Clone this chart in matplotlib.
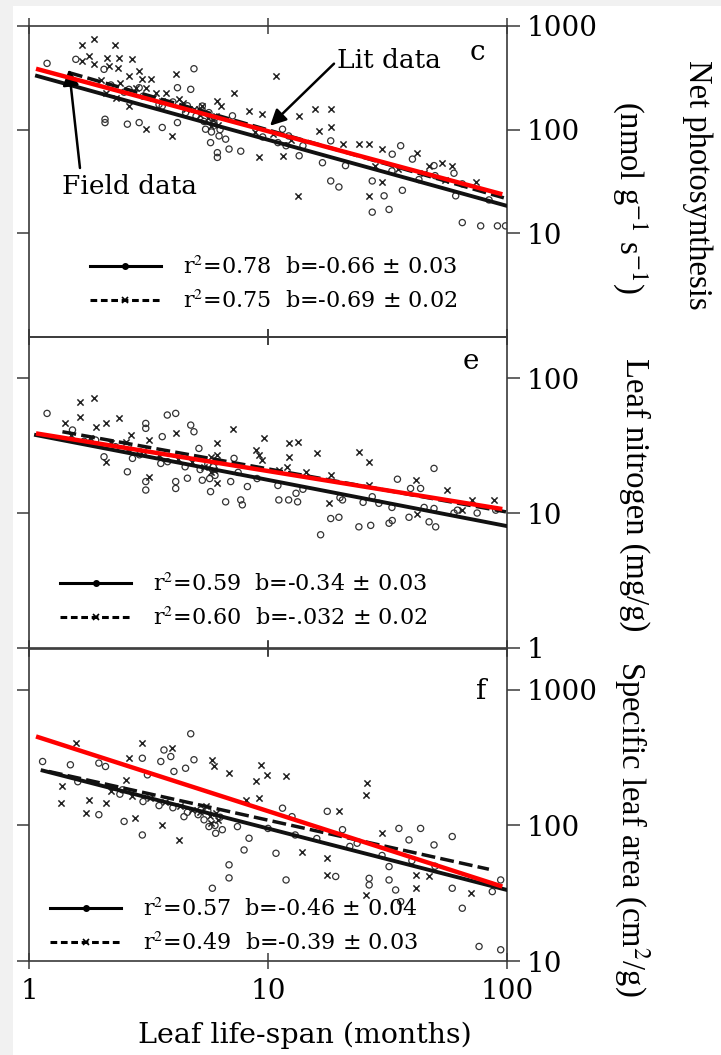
import matplotlib
matplotlib.use("Agg")
import matplotlib.pyplot as plt
from matplotlib.lines import Line2D
from matplotlib.patches import Rectangle
from matplotlib.ticker import NullLocator

plt.rcParams["font.family"] = "DejaVu Serif"
plt.rcParams["mathtext.fontset"] = "stix"

# ---- panel c: net photosynthesis ----
photo_cross_x = [1.66, 1.87, 2.29, 1.79, 2.11, 2.38, 2.69, 1.67, 1.87, 2.16, 2.36, 2.89, 2.62, 3.23,
                 3.08, 4.11, 3.73, 4.24, 5.31, 6.14, 7.21, 10.8, 15.8, 18.3, 16.3, 18.3, 8.33, 9.47,
                 13.5, 3.98, 3.08, 9.17, 11.5, 13.3, 20.5, 24.0, 26.5, 30.1, 42.2, 53.6, 59.0, 26.5,
                 30.1, 74.0, 47.2, 2.62, 2.31, 2.09, 5.14, 6.04, 5.75, 6.34, 2.98, 3.39, 4.52,
                 2.0, 2.4, 2.8, 3.3, 3.6, 4.4, 4.9, 5.2, 5.6, 5.9, 6.2, 8.8, 10.5, 12.5,
                 28, 35, 45, 55]
photo_cross_y = [652, 755, 652, 514, 495, 488, 477, 459, 427, 411, 396, 368, 330, 306,
                 254, 342, 228, 196, 169, 189, 228, 330, 157, 157, 97, 105, 151, 141,
                 136, 87, 101, 54, 56, 23, 72, 72, 72, 65, 60, 48, 45, 23,
                 31, 31, 45, 169, 204, 228, 157, 136, 108, 169, 306, 228, 157,
                 300, 280, 250, 200, 190, 180, 160, 140, 130, 125, 110, 95, 90, 80,
                 45, 42, 38, 33]
photo_circ_x = [1.19, 1.57, 2.06, 2.08, 2.08, 2.58, 2.89, 3.61, 4.18, 4.75, 4.90, 4.18, 6.14, 6.14,
                6.87, 7.69, 7.10, 6.65, 11.5, 12.2, 16.9, 18.3, 19.8, 18.3, 27.3, 32.1, 30.6, 36.5,
                33.1, 35.9, 49.5, 60.0, 61.0, 65.0, 77.6, 91.2, 98.6, 21.1, 27.3, 40.2, 42.8, 84.1,
                11.9, 13.5, 5.31, 5.66, 5.94, 5.48, 6.24, 5.75, 2.89, 2.62, 3.61, 4.52,
                2.2, 2.5, 3.0, 3.5, 4.0, 4.6, 5.0, 5.4, 5.8, 6.0, 6.3, 9.5, 11.0, 14,
                33, 50, 65]
photo_circ_y = [436, 477, 382, 126, 117, 113, 117, 105, 254, 245, 387, 117, 60, 54,
                65, 62, 136, 81, 101, 87, 48, 32, 28, 78, 16, 17, 23, 26,
                58, 70, 45, 38, 23, 12.7, 11.8, 11.8, 11.8, 45, 32, 52, 33, 21,
                70, 56, 169, 146, 117, 101, 87, 75, 254, 245, 169, 146,
                270, 230, 210, 175, 185, 170, 135, 120, 95, 130, 100, 85, 75, 70,
                40, 36, 30]
photo_solid = ([1.08, 100], [330, 18.4])
photo_dashed = ([1.47, 97], [355, 22])
photo_red = ([1.07, 95.6], [387, 23.8])
photo_labels = ["r$^2$=0.78  b=-0.66 ± 0.03", "r$^2$=0.75  b=-0.69 ± 0.02"]

# ---- panel e: leaf nitrogen ----
nitro_cross_x = [1.64, 1.87, 1.64, 1.41, 2.38, 2.09, 2.66, 4.11, 3.18, 7.14, 6.14, 6.14, 9.62, 8.88,
                 9.47, 9.17, 12.2, 13.3, 12.2, 12.0, 16.1, 24.0, 26.5, 11.1, 14.4, 18.3, 18.0, 26.5,
                 41.5, 56.3, 42.2, 71.6, 88.3, 65.0, 3.18, 2.09, 2.54, 1.90, 5.75, 5.94, 6.14,
                 1.5, 1.8, 2.2, 2.6, 3.0, 3.5, 4.2, 4.8, 5.4, 5.8]
nitro_cross_y = [66.8, 70.6, 51.6, 46.1, 50.2, 46.1, 37.8, 38.9, 34.7, 41.7, 32.8, 26.9, 35.7, 29.3,
                 24.7, 26.9, 32.8, 33.7, 26.1, 22.0, 27.7, 28.5, 24.0, 21.0, 20.2, 19.2, 11.8, 16.2,
                 17.5, 14.8, 9.9, 12.5, 12.5, 10.5, 18.6, 24.0, 33.7, 43.6, 26.1, 21.0, 16.6,
                 38, 36, 33, 30, 29, 27, 25, 24, 22, 20]
nitro_circ_x = [1.19, 3.79, 4.11, 3.08, 3.08, 4.75, 4.90, 3.61, 2.58, 3.08, 3.08, 4.11, 4.11, 4.60,
                5.14, 5.31, 5.75, 6.65, 7.69, 7.81, 6.98, 7.21, 8.20, 11.1, 12.2, 13.3, 13.1, 16.6,
                18.3, 19.8, 24.0, 26.9, 32.1, 33.1, 34.8, 38.9, 39.5, 43.5, 49.5, 47.2, 50.3, 49.5,
                62.0, 89.7, 27.3, 29.1, 20.5, 2.06, 1.90, 1.52, 2.71, 3.56, 5.9, 6.0, 5.6,
                1.7, 2.3, 2.9, 3.8, 4.5, 5.2, 5.7, 6.1, 7.5, 9, 11, 14, 20, 25, 33, 45, 60, 75]
nitro_circ_y = [54.7, 53.2, 54.7, 46.1, 42.4, 44.8, 40.0, 36.8, 20.2, 17.1, 14.8, 17.1, 15.2, 18.1,
                30.1, 17.5, 14.4, 12.1, 12.5, 11.5, 17.1, 25.4, 15.7, 12.5, 12.5, 12.1, 14.0, 6.9,
                9.1, 9.3, 7.9, 8.1, 8.4, 8.8, 17.8, 9.3, 15.2, 15.2, 21.4, 8.6, 7.9, 10.8,
                10.5, 10.5, 13.2, 11.8, 12.5, 26.1, 34.7, 41.2, 25.4, 23.3, 22.0, 19.0, 23.0,
                34, 31, 27, 24, 22, 21, 18, 24, 20, 18, 16, 15, 13, 12, 11, 11, 10, 10]
nitro_solid = ([1.07, 100], [37.8, 8.0])
nitro_dashed = ([1.38, 99], [40.0, 10.2])
nitro_red = ([1.07, 95.6], [38.9, 10.7])
nitro_labels = ["r$^2$=0.59  b=-0.34 ± 0.03", "r$^2$=0.60  b=-.032 ± 0.02"]

# ---- panel f: specific leaf area ----
sla_cross_x = [1.57, 1.38, 1.36, 1.78, 2.09, 1.73, 2.54, 2.98, 2.62, 3.98, 5.85, 5.94, 6.87, 9.32,
               9.94, 8.88, 9.17, 11.9, 26.0, 25.6, 19.8, 4.24, 13.9, 17.7, 17.7, 25.6, 30.1, 41.5,
               41.5, 47.2, 70.5, 8.07, 2.79, 3.61, 5.48, 6.04, 5.75,
               2.2, 2.7, 3.2, 3.7, 4.3, 4.8, 5.2, 5.7, 6.2]
sla_cross_y = [404, 194, 146, 154, 146, 123, 217, 404, 313, 371, 305, 272, 243, 280,
               236, 211, 159, 230, 205, 168, 127, 78.2, 64, 57.3, 43.2, 30.7, 87.5, 43.2,
               34.4, 42.0, 31.6, 154, 113, 101, 138, 123, 104,
               180, 165, 160, 150, 140, 130, 125, 118, 110]
sla_circ_x = [1.14, 1.49, 1.96, 4.75, 2.98, 3.56, 3.92, 3.67, 4.04, 4.52, 4.90, 3.13, 1.96, 2.50,
              2.98, 4.45, 5.85, 6.87, 6.87, 7.94, 8.33, 7.45, 6.44, 10.8, 11.9, 11.5, 12.6, 17.7,
              20.5, 23.6, 26.5, 26.5, 32.1, 32.1, 35.9, 35.3, 43.5, 49.5, 59.0, 59.0, 65.0, 76.4,
              94.1, 94.1, 86.8, 38.9, 19.2, 34.2, 5.23, 5.66, 6.04, 5.40, 2.09, 2.46,
              1.6, 2.4, 3.0, 3.5, 4.0, 4.6, 5.1, 5.6, 6.0, 6.3, 10, 13, 16, 22, 30, 40, 50]
sla_circ_y = [296, 280, 288, 474, 313, 296, 322, 360, 250, 264, 305, 236, 120, 107,
              85, 116, 34.4, 51.2, 41, 65.9, 80.4, 98, 93, 62.3, 39.6, 134, 116, 127,
              93, 73.9, 40.7, 36.4, 49.7, 39.6, 27.4, 95, 95, 71.8, 82.8, 34.4, 24.5, 12.8,
              12.1, 39.6, 32.5, 78.2, 42.0, 33.4, 130, 98, 87.5, 110, 272, 183,
              210, 170, 150, 140, 135, 125, 120, 128, 100, 115, 95, 85, 80, 70, 60, 55, 50]
sla_solid = ([1.14, 100], [254, 33.4])
sla_dashed = ([1.21, 84], [250, 47.5])
sla_red = ([1.07, 95.6], [453, 35.4])
sla_labels = ["r$^2$=0.57  b=-0.46 ± 0.04", "r$^2$=0.49  b=-0.39 ± 0.03"]

W, H = 721, 1055
fig = plt.figure(figsize=(W / 100, H / 100), dpi=100, facecolor="#f1f1f1")
fig.add_artist(Rectangle((13 / W, 0), 1, 1 - 6 / H, transform=fig.transFigure,
                         facecolor="white", edgecolor="none", zorder=-10))


def make_axes(top_px, bottom_px):
    ax = fig.add_axes([29 / W, 1 - bottom_px / H, 478 / W, (bottom_px - top_px) / H])
    ax.set_xscale("log")
    ax.set_yscale("log")
    ax.set_xlim(1, 100)
    for s in ax.spines.values():
        s.set_color("#3a3a3a")
        s.set_linewidth(1.2)
    ax.yaxis.set_minor_locator(NullLocator())
    ax.xaxis.set_minor_locator(NullLocator())
    ax.tick_params(axis="y", which="major", left=True, right=True, labelleft=False,
                   labelright=True, direction="out", length=9, width=1.1, pad=5,
                   labelsize=20, color="#3a3a3a")
    ax.tick_params(axis="x", which="major", bottom=True, top=True, direction="inout",
                   length=12, width=1.1, labelbottom=False, color="#3a3a3a")
    ax.set_facecolor("none")
    return ax


def draw_panel(ax, cx, cy, ox, oy, solid, dashed, red, labels, legend_at):
    ax.scatter(ox, oy, s=20, facecolors="none", edgecolors="#333333", linewidths=0.9, zorder=2)
    ax.scatter(cx, cy, s=20, marker="x", color="#222222", linewidths=1.1, zorder=2)
    ax.plot(*solid, color="#111111", lw=2.8, zorder=3)
    ax.plot(*dashed, color="#111111", lw=2.5, ls=(0, (4, 1.5)), zorder=3)
    ax.plot(*red, color="#ff0000", lw=3.2, zorder=4, solid_capstyle="butt")
    handles = [Line2D([], [], color="k", lw=2.2, marker=".", ms=8),
               Line2D([], [], color="k", lw=2.2, ls=(0, (2.2, 1.2)), marker="x", ms=4, mew=1.2)]
    ax.legend(handles, labels, loc="upper left", bbox_to_anchor=legend_at, frameon=False,
              fontsize=16, handlelength=3.2, handletextpad=1.0, borderpad=0,
              borderaxespad=0, labelspacing=0.5, numpoints=1)


# panel c
ax1 = make_axes(26, 337)
ax1.set_ylim(1, 1000)
ax1.set_yticks([10, 100, 1000])
ax1.set_yticklabels(["10", "100", "1000"])
draw_panel(ax1, photo_cross_x, photo_cross_y, photo_circ_x, photo_circ_y,
           photo_solid, photo_dashed, photo_red, photo_labels, (0.127, 0.257))
ax1.annotate("Lit data", xy=(10.2, 109), xytext=(19.4, 460), fontsize=19, ha="left", va="center",
             arrowprops=dict(arrowstyle="-|>", color="k", lw=1.8, mutation_scale=24,
                             shrinkA=0, shrinkB=0, relpos=(0, 0.5)))
ax1.annotate("Field data", xy=(1.47, 382), xytext=(1.37, 28.6), fontsize=19, ha="left", va="center",
             arrowprops=dict(arrowstyle="-|>", color="k", lw=1.8, mutation_scale=24,
                             shrinkA=2, shrinkB=0, relpos=(0.14, 1.0)))
ax1.text(0.937, 0.916, "c", transform=ax1.transAxes, fontsize=20, ha="center", va="center")

# panel e
ax2 = make_axes(337.4, 648)
ax2.set_ylim(1, 200)
ax2.set_yticks([1, 10, 100])
ax2.set_yticklabels(["1", "10", "100"])
draw_panel(ax2, nitro_cross_x, nitro_cross_y, nitro_circ_x, nitro_circ_y,
           nitro_solid, nitro_dashed, nitro_red, nitro_labels, (0.065, 0.238))
ax2.text(0.925, 0.921, "e", transform=ax2.transAxes, fontsize=20, ha="center", va="center")

# panel f
ax3 = make_axes(649, 961)
ax3.set_ylim(10, 2000)
ax3.set_yticks([10, 100, 1000])
ax3.set_yticklabels(["10", "100", "1000"])
draw_panel(ax3, sla_cross_x, sla_cross_y, sla_circ_x, sla_circ_y,
           sla_solid, sla_dashed, sla_red, sla_labels, (0.044, 0.199))
ax3.text(0.946, 0.863, "f", transform=ax3.transAxes, fontsize=20, ha="center", va="center")
ax3.set_xticks([1, 10, 100])
ax3.set_xticklabels(["1", "10", "100"])
ax3.tick_params(axis="x", labelbottom=True, labelsize=20, pad=6)

# axis titles (vertical ones in a Times-like face)
vfont = dict(family="Liberation Serif", size=23.5)
fig.text(697 / W, 1 - 185 / H, "Net photosynthesis", rotation=270, fontdict=vfont,
         ha="center", va="center")
fig.text(630 / W, 1 - 197 / H, "(nmol g$^{-1}$ s$^{-1}$)", rotation=270, fontdict=vfont,
         ha="center", va="center")
fig.text(635 / W, 1 - 495 / H, "Leaf nitrogen (mg/g)", rotation=270, fontdict=vfont,
         ha="center", va="center")
fig.text(632 / W, 1 - 829 / H, "Specific leaf area (cm$^2$/g)", rotation=270, fontdict=vfont,
         ha="center", va="center")
fig.text(305 / W, 1 - 1035 / H, "Leaf life-span (months)", fontsize=20.5,
         ha="center", va="center")

fig.savefig("out.png", dpi=100, facecolor=fig.get_facecolor())
